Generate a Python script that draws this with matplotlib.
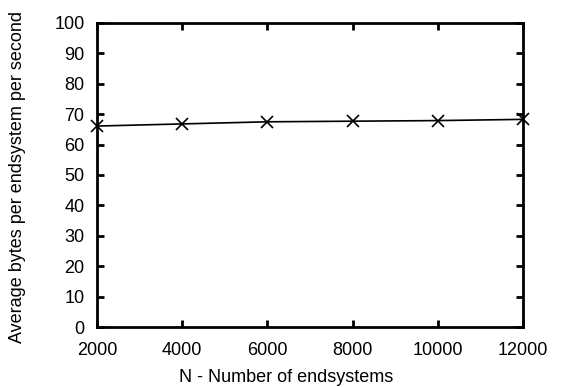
import numpy as np
import matplotlib
matplotlib.use("Agg")
import matplotlib.pyplot as plt

plt.rcParams['font.family'] = ['Liberation Sans', 'DejaVu Sans']

n_endsystems = [2000, 4000, 6000, 8000, 10000, 12000]
avg_bytes = [66.1, 66.8, 67.5, 67.7, 67.9, 68.3]

fig = plt.figure(figsize=(5.65, 3.87), dpi=100)
ax = fig.add_axes([97 / 565, 1 - 327 / 387, (523 - 97) / 565, (327 - 23) / 387])

ax.plot(n_endsystems, avg_bytes, color='black', linewidth=1.2,
        marker='x', markersize=8, markeredgewidth=1.2, clip_on=False)

ax.set_xlim(2000, 12000)
ax.set_ylim(0, 100)
ax.set_xticks(np.arange(2000, 12001, 2000))
ax.set_yticks(np.arange(0, 101, 10))
ax.tick_params(direction='in', top=True, right=True, length=5, width=2,
               labelsize=13)
ax.tick_params(axis='x', pad=11)
ax.tick_params(axis='y', pad=9)
for s in ax.spines.values():
    s.set_linewidth(2)

ax.set_xlabel('N - Number of endsystems', fontsize=13)
ax.set_ylabel('Average bytes per endsystem per second', fontsize=13)
# label positions in axes fraction, matching the original layout
ax.xaxis.set_label_coords((286 - 97) / 426, -(377 - 327) / 304)
ax.yaxis.set_label_coords(-(97 - 18) / 426, (327 - 177) / 304)
ax.xaxis.label.set_va('center')
ax.yaxis.label.set_va('center')

fig.savefig('out.png', dpi=100)
